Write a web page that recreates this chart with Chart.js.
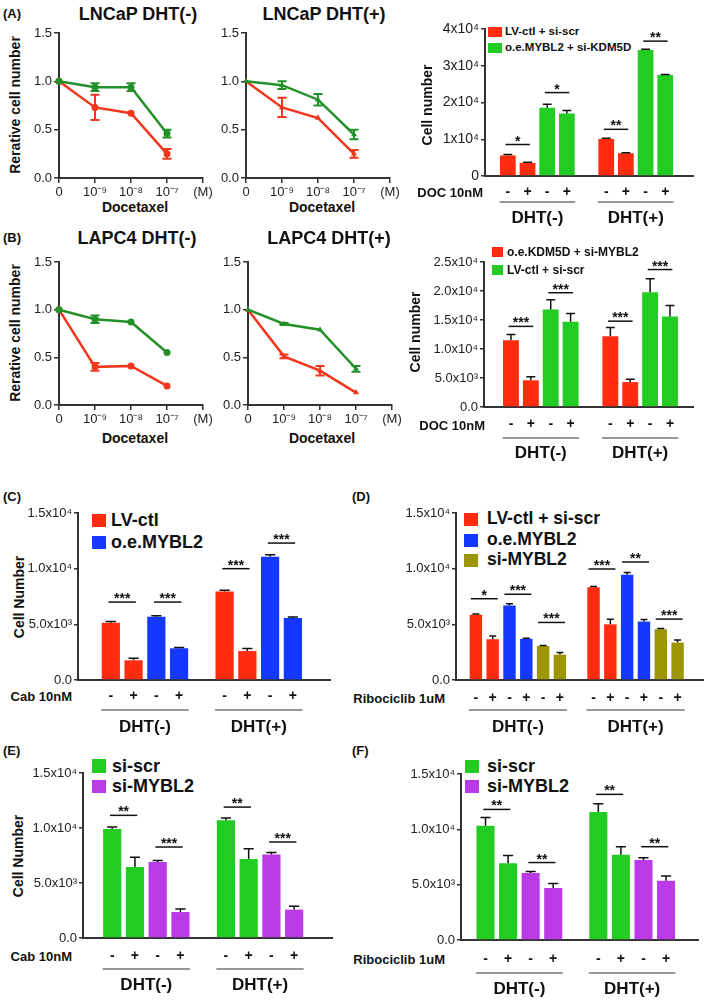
<!DOCTYPE html>
<html>
<head>
<meta charset="utf-8">
<script src="https://cdn.jsdelivr.net/npm/chart.js@4.4.1/dist/chart.umd.min.js"></script>
<style>
body { margin: 0; width: 709px; height: 1000px; position: relative; overflow: hidden; background: #fff; font-family: "Liberation Sans", Arial, sans-serif; color: #111; }
canvas { position: absolute; }
.tx { position: absolute; white-space: nowrap; line-height: 1; font-weight: bold; }
.sq { position: absolute; }
</style>
</head>
<body>
<script>

/* LINE CHART DATA - relative cell number vs docetaxel */

const doseLabels = ["0", "10⁻⁹", "10⁻⁸", "10⁻⁷", "(M)"];

const lncapMinusRed = [1.0, 0.73, 0.67, 0.25];
const lncapMinusRedErr = [0, 0.13, 0, 0.05];
const lncapMinusGreen = [1.0, 0.94, 0.94, 0.46];
const lncapMinusGreenErr = [0, 0.04, 0.04, 0.04];

const lncapPlusRed = [1.0, 0.73, 0.62, 0.25];
const lncapPlusRedErr = [0, 0.1, 0, 0.04];
const lncapPlusGreen = [1.0, 0.96, 0.81, 0.45];
const lncapPlusGreenErr = [0, 0.04, 0.06, 0.05];

const lapcMinusRed = [1.0, 0.40, 0.41, 0.20];
const lapcMinusRedErr = [0, 0.04, 0, 0];
const lapcMinusGreen = [1.0, 0.90, 0.87, 0.55];
const lapcMinusGreenErr = [0, 0.04, 0, 0];

const lapcPlusRed = [1.0, 0.51, 0.36, 0.13];
const lapcPlusRedErr = [0, 0.02, 0.05, 0];
const lapcPlusGreen = [1.0, 0.85, 0.79, 0.38];
const lapcPlusGreenErr = [0, 0.01, 0, 0.03];

/* BAR CHART DATA - cell number */

const signsPair = ["-", "+", "-", "+", "-", "+", "-", "+"];
const signsTriple = ["-", "+", "-", "+", "-", "+", "-", "+", "-", "+", "-", "+"];
const slotsPair = [0, 1, 2, 3, 5, 6, 7, 8];
const slotsTriple = [0, 1, 2, 3, 4, 5, 7, 8, 9, 10, 11, 12];
const slotsFirst = [0, 1, 5, 6];
const slotsSecond = [2, 3, 7, 8];
const slotsD1 = [0, 1, 7, 8];
const slotsD2 = [2, 3, 9, 10];
const slotsD3 = [4, 5, 11, 12];

const ticksA = ["0", "1x10⁴", "2x10⁴", "3x10⁴", "4x10⁴"];
const ticksB = ["0.0", "5.0x10³", "1.0x10⁴", "1.5x10⁴", "2.0x10⁴", "2.5x10⁴"];
const ticksCF = ["0.0", "5.0x10³", "1.0x10⁴", "1.5x10⁴"];

// (A) LV-ctl + si-scr / o.e.MYBL2 + si-KDM5D
const aRed = [5600, 3600, 10100, 6200];
const aRedErr = [250, 150, 150, 100];
const aGreen = [18600, 17000, 34300, 27500];
const aGreenErr = [900, 800, 200, 150];
const aSig = [[0, 1, 8570, "*"], [2, 3, 22700, "*"], [5, 6, 12700, "**"], [7, 8, 36700, "**"]];

// (B) o.e.KDM5D + si-MYBL2 / LV-ctl + si-scr
const bRed = [11500, 4600, 12200, 4300];
const bRedErr = [1000, 600, 1500, 500];
const bGreen = [16800, 14700, 19800, 15600];
const bGreenErr = [1700, 1400, 2300, 1900];
const bSig = [[0, 1, 13900, "***"], [2, 3, 19700, "***"], [5, 6, 14800, "***"], [7, 8, 23700, "***"]];

// (C) LV-ctl / o.e.MYBL2, Cab
const cRed = [5150, 1770, 7960, 2600];
const cRedErr = [100, 180, 100, 240];
const cBlue = [5680, 2850, 11080, 5560];
const cBlueErr = [80, 60, 180, 100];
const cSig = [[0, 1, 7000, "***"], [2, 3, 7000, "***"], [5, 6, 10000, "***"], [7, 8, 12300, "***"]];

// (D) LV-ctl + si-scr / o.e.MYBL2 / si-MYBL2, Ribociclib
const dRed = [5860, 3660, 8320, 5000];
const dRedErr = [60, 300, 80, 450];
const dBlue = [6700, 3700, 9460, 5250];
const dBlueErr = [150, 60, 200, 180];
const dOlive = [3060, 2280, 4560, 3360];
const dOliveErr = [50, 200, 60, 240];
const dSig = [[0, 1, 7300, "*"], [2, 3, 7700, "***"], [4, 5, 5170, "***"], [7, 8, 9970, "***"], [9, 10, 10600, "**"], [11, 12, 5470, "***"]];

// (E) si-scr / si-MYBL2, Cab
const eGreen = [9900, 6450, 10700, 7180];
const eGreenErr = [180, 900, 200, 940];
const ePurple = [6900, 2360, 7600, 2580];
const ePurpleErr = [150, 270, 180, 300];
const eSig = [[0, 1, 11150, "**"], [2, 3, 8270, "***"], [5, 6, 11900, "**"], [7, 8, 8730, "***"]];

// (F) si-scr / si-MYBL2, Ribociclib
const fGreen = [10330, 6930, 11570, 7710];
const fGreenErr = [750, 700, 750, 720];
const fPurple = [6050, 4700, 7230, 5360];
const fPurpleErr = [150, 400, 200, 420];
const fSig = [[0, 1, 11800, "**"], [2, 3, 7000, "**"], [5, 6, 13160, "**"], [7, 8, 8430, "**"]];

const groupsPair = [[0, 3, "DHT(-)"], [5, 8, "DHT(+)"]];
const groupsTriple = [[0, 5, "DHT(-)"], [7, 12, "DHT(+)"]];

/* COLOURS */

const axisColor = "#333";
const lineRed = "#f0361c";
const lineGreen = "#23902a";
const barRed = "#ff2c10";
const barGreen = "#22cc22";
const barBlue = "#1438ff";
const barOlive = "#9c9606";
const barPurple = "#bb3ae8";

Chart.defaults.font.family = '"Liberation Sans", Arial, sans-serif';
Chart.defaults.color = "#222";

/* PLUGINS */

const errorBarPlugin = {
  id: "errorBars",
  afterDatasetsDraw(chart) {
    const ctx = chart.ctx;
    const yScale = chart.scales.y;
    chart.data.datasets.forEach((ds, di) => {
      if (!ds.errors) return;
      const meta = chart.getDatasetMeta(di);
      ctx.save();
      ctx.strokeStyle = ds.errorColor || ds.borderColor;
      ctx.lineWidth = ds.errorWidth || 1.5;
      meta.data.forEach((el, i) => {
        const e = ds.errors[i];
        if (!e) return;
        const v = meta.controller.getParsed(i).y;
        const half = ds.capHalf || el.width * 0.28;
        const top = yScale.getPixelForValue(v + e);
        const bottom = ds.oneSided ? yScale.getPixelForValue(v) : yScale.getPixelForValue(v - e);
        ctx.beginPath();
        ctx.moveTo(el.x, bottom);
        ctx.lineTo(el.x, top);
        ctx.moveTo(el.x - half, top);
        ctx.lineTo(el.x + half, top);
        if (!ds.oneSided) {
          ctx.moveTo(el.x - half, bottom);
          ctx.lineTo(el.x + half, bottom);
        }
        ctx.stroke();
      });
      ctx.restore();
    });
  }
};

const sigPlugin = {
  id: "sig",
  afterDatasetsDraw(chart, args, opts) {
    if (!opts.items) return;
    const ctx = chart.ctx;
    const x = chart.scales.x;
    const y = chart.scales.y;
    ctx.save();
    ctx.strokeStyle = "#111";
    ctx.fillStyle = "#111";
    ctx.lineWidth = 1.5;
    ctx.font = 'bold 14px "Liberation Sans", Arial, sans-serif';
    ctx.textAlign = "center";
    ctx.textBaseline = "alphabetic";
    opts.items.forEach(([a, b, v, s]) => {
      const x1 = x.getPixelForValue(a - opts.ext);
      const x2 = x.getPixelForValue(b + opts.ext);
      const yy = y.getPixelForValue(v);
      ctx.beginPath();
      ctx.moveTo(x1, yy);
      ctx.lineTo(x2, yy);
      ctx.stroke();
      ctx.fillText(s, (x1 + x2) / 2, yy + 1);
    });
    ctx.restore();
  }
};

const groupPlugin = {
  id: "groups",
  afterDraw(chart, args, opts) {
    if (!opts.items) return;
    const ctx = chart.ctx;
    const x = chart.scales.x;
    const base = chart.chartArea.bottom;
    ctx.save();
    ctx.strokeStyle = "#333";
    ctx.fillStyle = "#111";
    ctx.lineWidth = 1.2;
    ctx.font = 'bold 17px "Liberation Sans", Arial, sans-serif';
    ctx.textAlign = "center";
    ctx.textBaseline = "middle";
    opts.items.forEach(([a, b, label]) => {
      const x1 = x.getPixelForValue(a - 0.42);
      const x2 = x.getPixelForValue(b + 0.42);
      ctx.beginPath();
      ctx.moveTo(x1, base + opts.lineOffset);
      ctx.lineTo(x2, base + opts.lineOffset);
      ctx.stroke();
      ctx.fillText(label, (x1 + x2) / 2, base + opts.textOffset);
    });
    ctx.restore();
  }
};

/* HELPERS */

function addCanvas(box) {
  const c = document.createElement("canvas");
  c.width = box.w;
  c.height = box.h;
  c.style.left = box.x + "px";
  c.style.top = box.y + "px";
  document.body.appendChild(c);
  return c;
}

function text(str, x, y, size, align) {
  const d = document.createElement("div");
  d.className = "tx";
  d.textContent = str;
  d.style.fontSize = size + "px";
  d.style.left = x + "px";
  d.style.top = y + "px";
  let tr = "translate(-50%,-50%)";
  if (align === "right") tr = "translate(-100%,-50%)";
  if (align === "left") tr = "translate(0,-50%)";
  if (align === "rot") tr = "translate(-50%,-50%) rotate(-90deg)";
  d.style.transform = tr;
  document.body.appendChild(d);
}

function swatch(x, y, w, h, color) {
  const d = document.createElement("div");
  d.className = "sq";
  d.style.left = x + "px";
  d.style.top = y + "px";
  d.style.width = w + "px";
  d.style.height = h + "px";
  d.style.background = color;
  document.body.appendChild(d);
}

/* LINE CHARTS */

function lineChart(box, area, red, redErr, green, greenErr, marker) {

const cv = addCanvas(box);

const series = (values, errs, color) => ({
  data: values,
  errors: errs,
  borderColor: color,
  backgroundColor: color,
  borderWidth: 2.5,
  pointStyle: marker,
  pointRadius: 3.5,
  pointBorderWidth: 0,
  pointBackgroundColor: color,
  errorWidth: 2,
  capHalf: 4.5,
  tension: 0,
  clip: false
});

new Chart(cv, {

type: "line",

data: {
labels: doseLabels,
datasets: [
  series(green, greenErr, lineGreen),
  series(red, redErr, lineRed)
]
},

options: {
responsive: false,
animation: false,
layout: { padding: { left: 0, top: area.top - box.y, right: box.x + box.w - area.right, bottom: 0 } },
plugins: { legend: { display: false }, tooltip: { enabled: false } },
scales: {
  x: {
    offset: false,
    grid: { drawOnChartArea: false, color: axisColor, lineWidth: 1.5, tickLength: 5 },
    border: { color: axisColor, width: 2 },
    ticks: { font: { size: 13 }, padding: 2, autoSkip: false, maxRotation: 0 },
    afterFit: s => { s.height = box.y + box.h - area.bottom; }
  },
  y: {
    min: 0,
    max: 1.5,
    grid: { drawOnChartArea: false, color: axisColor, lineWidth: 1.5, tickLength: 5 },
    border: { color: axisColor, width: 2 },
    ticks: { stepSize: 0.5, font: { size: 13 }, padding: 2, callback: v => v.toFixed(1) },
    afterFit: s => { s.width = area.left - box.x; }
  }
}
},

plugins: [errorBarPlugin]

});

}

/* BAR CHARTS */

function barChart(box, area, o) {

const cv = addCanvas(box);

new Chart(cv, {

type: "bar",

data: {
datasets: o.series.map(s => ({
  data: s.values.map((v, i) => ({ x: s.slots[i], y: v })),
  errors: s.errors,
  backgroundColor: s.color,
  grouped: false,
  categoryPercentage: 1,
  barPercentage: o.barPct,
  borderWidth: 0,
  errorColor: "#111",
  errorWidth: 1.5,
  oneSided: true
}))
},

options: {
responsive: false,
animation: false,
layout: { padding: { left: 0, top: area.top - box.y, right: box.x + box.w - area.right, bottom: 0 } },
plugins: {
  legend: { display: false },
  tooltip: { enabled: false },
  sig: { items: o.sig, ext: o.sigExt },
  groups: { items: o.groups, lineOffset: o.lineOffset, textOffset: o.textOffset }
},
scales: {
  x: {
    type: "linear",
    min: o.xMin,
    max: o.xMax,
    afterBuildTicks: s => { s.ticks = o.slots.map(v => ({ value: v })); },
    grid: { display: false, drawTicks: false },
    border: { color: axisColor, width: 2 },
    ticks: { autoSkip: false, maxRotation: 0, padding: o.tickPad, color: "#111", font: { size: 14, weight: "bold" }, callback: (v, i) => o.signs[i] },
    afterFit: s => { s.height = box.y + box.h - area.bottom; }
  },
  y: {
    min: 0,
    max: o.yMax,
    grid: { drawOnChartArea: false, color: axisColor, lineWidth: 1.5, tickLength: 4 },
    border: { color: axisColor, width: 2 },
    ticks: { stepSize: o.yStep, font: { size: o.yFont }, padding: 2, color: "#222", callback: (v, i) => o.yLabels[i] },
    afterFit: s => { s.width = area.left - box.x; }
  }
}
},

plugins: [errorBarPlugin, sigPlugin, groupPlugin]

});

}

/* (A) */

text("(A)", 3, 13, 13, "left");
text("LNCaP DHT(-)", 138, 14, 18);
text("LNCaP DHT(+)", 324, 14, 18);
text("Rerative cell number", 15, 105, 14, "rot");
text("Docetaxel", 135, 207, 14);
text("Docetaxel", 322, 207, 14);

lineChart({ x: 25, y: 20, w: 195, h: 180 }, { left: 59, top: 33, right: 203, bottom: 178 },
  lncapMinusRed, lncapMinusRedErr, lncapMinusGreen, lncapMinusGreenErr, "circle");
lineChart({ x: 212, y: 20, w: 198, h: 180 }, { left: 246, top: 33, right: 390, bottom: 178 },
  lncapPlusRed, lncapPlusRedErr, lncapPlusGreen, lncapPlusGreenErr, "triangle");

text("Cell number", 427, 105, 14, "rot");
text("DOC 10nM", 483, 192, 13, "right");
swatch(488, 27, 14, 10, barRed);
text("LV-ctl + si-scr", 505, 32, 11.5, "left");
swatch(488, 43, 14, 10, barGreen);
text("o.e.MYBL2 + si-KDM5D", 505, 48, 11.5, "left");

barChart({ x: 432, y: 10, w: 277, h: 222 }, { left: 485, top: 29, right: 693, bottom: 176 }, {
  series: [
    { slots: slotsFirst, values: aRed, errors: aRedErr, color: barRed },
    { slots: slotsSecond, values: aGreen, errors: aGreenErr, color: barGreen }
  ],
  slots: slotsPair, signs: signsPair, xMin: -0.5, xMax: 8.75, barPct: 0.8,
  yMax: 40000, yStep: 10000, yLabels: ticksA, yFont: 14,
  sig: aSig, sigExt: 0.12, groups: groupsPair, lineOffset: 26, textOffset: 42, tickPad: 8
});

/* (B) */

text("(B)", 3, 237, 13, "left");
text("LAPC4 DHT(-)", 137, 238, 18);
text("LAPC4 DHT(+)", 329, 238, 18);
text("Rerative cell number", 15, 333, 14, "rot");
text("Docetaxel", 135, 438, 14);
text("Docetaxel", 322, 438, 14);

lineChart({ x: 25, y: 248, w: 195, h: 180 }, { left: 59, top: 262, right: 203, bottom: 405 },
  lapcMinusRed, lapcMinusRedErr, lapcMinusGreen, lapcMinusGreenErr, "circle");
lineChart({ x: 214, y: 248, w: 198, h: 180 }, { left: 248, top: 262, right: 392, bottom: 405 },
  lapcPlusRed, lapcPlusRedErr, lapcPlusGreen, lapcPlusGreenErr, "triangle");

text("Cell number", 415, 332, 14, "rot");
text("DOC 10nM", 485, 425, 13, "right");
swatch(492, 247, 11, 10, barRed);
text("o.e.KDM5D + si-MYBL2", 507, 252, 12, "left");
swatch(492, 265, 11, 10, barGreen);
text("LV-ctl + si-scr", 507, 270, 12, "left");

barChart({ x: 424, y: 240, w: 285, h: 230 }, { left: 484, top: 262, right: 693, bottom: 407 }, {
  series: [
    { slots: slotsFirst, values: bRed, errors: bRedErr, color: barRed },
    { slots: slotsSecond, values: bGreen, errors: bGreenErr, color: barGreen }
  ],
  slots: slotsPair, signs: signsPair, xMin: -0.7, xMax: 8.5, barPct: 0.8,
  yMax: 25000, yStep: 5000, yLabels: ticksB, yFont: 13,
  sig: bSig, sigExt: 0.12, groups: groupsPair, lineOffset: 31, textOffset: 46, tickPad: 9
});

/* (C) */

text("(C)", 3, 496, 13, "left");
text("Cell Number", 19, 597, 14, "rot");
text("Cab 10nM", 72, 696, 13, "right");
swatch(92, 514, 14, 13, barRed);
text("LV-ctl", 111, 520, 18, "left");
swatch(92, 536, 14, 13, barBlue);
text("o.e.MYBL2", 111, 542, 18, "left");

barChart({ x: 20, y: 500, w: 330, h: 240 }, { left: 78, top: 513, right: 330, bottom: 680 }, {
  series: [
    { slots: slotsFirst, values: cRed, errors: cRedErr, color: barRed },
    { slots: slotsSecond, values: cBlue, errors: cBlueErr, color: barBlue }
  ],
  slots: slotsPair, signs: signsPair, xMin: -0.75, xMax: 8.94, barPct: 0.8,
  yMax: 15000, yStep: 5000, yLabels: ticksCF, yFont: 13,
  sig: cSig, sigExt: 0.1, groups: groupsPair, lineOffset: 30, textOffset: 47, tickPad: 8
});

/* (D) */

text("(D)", 352, 496, 13, "left");
text("Ribociclib 1uM", 445, 698, 13, "right");
swatch(464, 513, 14, 13, barRed);
text("LV-ctl + si-scr", 487, 519, 17.5, "left");
swatch(464, 534, 14, 13, barBlue);
text("o.e.MYBL2", 487, 540, 17.5, "left");
swatch(464, 554, 14, 13, barOlive);
text("si-MYBL2", 487, 560, 17.5, "left");

barChart({ x: 400, y: 500, w: 309, h: 240 }, { left: 456, top: 513, right: 703, bottom: 680 }, {
  series: [
    { slots: slotsD1, values: dRed, errors: dRedErr, color: barRed },
    { slots: slotsD2, values: dBlue, errors: dBlueErr, color: barBlue },
    { slots: slotsD3, values: dOlive, errors: dOliveErr, color: barOlive }
  ],
  slots: slotsTriple, signs: signsTriple, xMin: -0.57, xMax: 12.9, barPct: 0.74,
  yMax: 15000, yStep: 5000, yLabels: ticksCF, yFont: 13,
  sig: dSig, sigExt: 0.3, groups: groupsTriple, lineOffset: 30, textOffset: 47, tickPad: 10
});

/* (E) */

text("(E)", 3, 750, 13, "left");
text("Cell Number", 18, 856, 14, "rot");
text("Cab 10nM", 72, 956, 13, "right");
swatch(92, 759, 14, 14, barGreen);
text("si-scr", 112, 766, 18, "left");
swatch(92, 780, 14, 13, barPurple);
text("si-MYBL2", 112, 786, 18, "left");

barChart({ x: 20, y: 760, w: 330, h: 240 }, { left: 83, top: 773, right: 332, bottom: 938 }, {
  series: [
    { slots: slotsFirst, values: eGreen, errors: eGreenErr, color: barGreen },
    { slots: slotsSecond, values: ePurple, errors: ePurpleErr, color: barPurple }
  ],
  slots: slotsPair, signs: signsPair, xMin: -0.6, xMax: 8.98, barPct: 0.8,
  yMax: 15000, yStep: 5000, yLabels: ticksCF, yFont: 13,
  sig: eSig, sigExt: 0.1, groups: groupsPair, lineOffset: 31, textOffset: 47, tickPad: 10
});

/* (F) */

text("(F)", 352, 750, 13, "left");
text("Ribociclib 1uM", 445, 959, 13, "right");
swatch(465, 760, 14, 13, barGreen);
text("si-scr", 487, 766, 18, "left");
swatch(465, 780, 14, 13, barPurple);
text("si-MYBL2", 487, 786, 18, "left");

barChart({ x: 400, y: 760, w: 309, h: 240 }, { left: 461, top: 774, right: 698, bottom: 940 }, {
  series: [
    { slots: slotsFirst, values: fGreen, errors: fGreenErr, color: barGreen },
    { slots: slotsSecond, values: fPurple, errors: fPurpleErr, color: barPurple }
  ],
  slots: slotsPair, signs: signsPair, xMin: -0.43, xMax: 8.76, barPct: 0.8,
  yMax: 15000, yStep: 5000, yLabels: ticksCF, yFont: 13,
  sig: fSig, sigExt: 0.1, groups: groupsPair, lineOffset: 33, textOffset: 49, tickPad: 11
});

</script>
</body>
</html>
